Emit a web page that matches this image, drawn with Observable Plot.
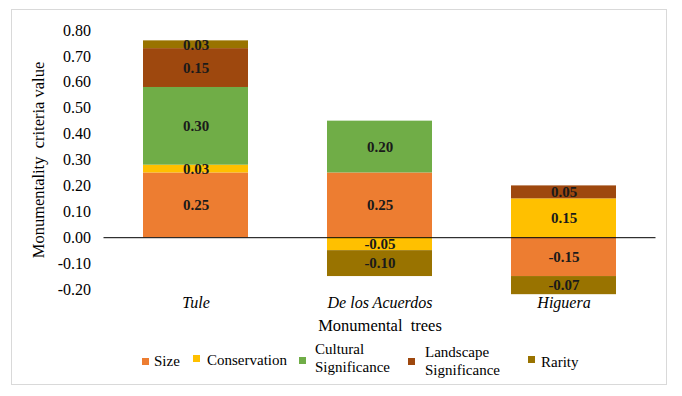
<!DOCTYPE html>
<html>
<head>
<meta charset="utf-8">
<script src="https://cdn.jsdelivr.net/npm/d3@7"></script>
<script src="https://cdn.jsdelivr.net/npm/@observablehq/plot@0.6"></script>
<style>
  html, body { margin: 0; padding: 0; background: #fff; }
  body { width: 682px; height: 396px; position: relative; overflow: hidden;
         font-family: "Liberation Serif", "LiberationSerif", Tinos, "Nimbus Roman", "DejaVu Serif", serif; }
  #frame { position: absolute; left: 11px; top: 9px; width: 656px; height: 376px;
           border: 1px solid #d9d9d9; box-sizing: border-box; }
  #chart { position: absolute; left: 0; top: 0; }
  #chart svg { overflow: visible; font-family: "Liberation Serif", "LiberationSerif", Tinos, "Nimbus Roman", "DejaVu Serif", serif !important; }
  #chart svg text { font-family: "Liberation Serif", "LiberationSerif", Tinos, "Nimbus Roman", "DejaVu Serif", serif; }
  .item { position: absolute; display: flex; align-items: center; transform: translateY(-50%);
          font-size: 15px; color: #000; line-height: 18px; }
  .sw { width: 7px; height: 7px; display: inline-block; flex: none; }
  .item:nth-child(1) { left: 142px; top: 361px; }
  .item:nth-child(1) .sw { margin-right: 5px; }
  .item:nth-child(2) { left: 193px; top: 360px; }
  .item:nth-child(2) .sw { margin-right: 7px; margin-top: -3px; }
  .item:nth-child(3) { left: 299px; top: 358px; }
  .item:nth-child(3) .sw { margin-right: 9px; margin-top: 4px; }
  .item:nth-child(4) { left: 408px; top: 361px; }
  .item:nth-child(4) .sw { margin-right: 10px; }
  .item:nth-child(5) { left: 528px; top: 362px; }
  .item:nth-child(5) .sw { margin-right: 6px; margin-top: -6px; }
</style>
</head>
<body>
<div id="frame"></div>
<div id="chart"></div>
<div id="legend"></div>
<script>
const trees = ["Tule", "De los Acuerdos", "Higuera"];
const criteria = ["Size", "Conservation", "Cultural Significance", "Landscape Significance", "Rarity"];
const legendLabels = ["Size", "Conservation", "Cultural<br>Significance", "Landscape<br>Significance", "Rarity"];
const colors = ["#ED7D31", "#FFC000", "#70AD47", "#9E480E", "#997300"];
const tuleValues = [0.25, 0.03, 0.30, 0.15, 0.03];
const acuerdosValues = [0.25, -0.05, 0.20, 0, -0.10];
const higueraValues = [-0.15, 0.15, 0, 0.05, -0.07];
const yTicks = [-0.2, -0.1, 0, 0.1, 0.2, 0.3, 0.4, 0.5, 0.6, 0.7, 0.8];

const seriesByTree = [tuleValues, acuerdosValues, higueraValues];
const rows = [];
trees.forEach((t, i) => {
  criteria.forEach((c, j) => {
    const v = seriesByTree[i][j];
    if (v !== 0) rows.push({tree: t, criterion: c, value: v});
  });
});

const fmt = d => (Math.abs(d) < 1e-9 ? 0 : d).toFixed(2);
const serif = '"Liberation Serif", "LiberationSerif", Tinos, "Nimbus Roman", "DejaVu Serif", serif';

const chart = Plot.plot({
  width: 682,
  height: 396,
  marginLeft: 103.5,
  marginRight: 26.5,
  marginTop: 30,
  marginBottom: 107,
  style: {fontFamily: serif, background: "transparent", color: "#000"},
  x: {domain: trees, paddingInner: 0.43, paddingOuter: 0.215, label: null},
  y: {domain: [-0.2, 0.8], label: null},
  color: {domain: criteria, range: colors},
  marks: [
    Plot.barY(rows, {x: "tree", y: "value", fill: "criterion", z: "criterion"}),
    Plot.ruleY([0], {stroke: "#000", strokeWidth: 1}),
    Plot.text(rows, Plot.stackY({x: "tree", y: "value", z: "criterion",
      text: d => fmt(d.value), fontWeight: "bold", fontSize: 15, fill: "#1a1a1a"})),
    Plot.axisY({ticks: yTicks, tickFormat: fmt, tickSize: 0, tickPadding: 13, fontSize: 16,
      label: "Monumentality  criteria value", labelAnchor: "center", labelOffset: 72, labelArrow: "none"}),
    Plot.axisX({tickSize: 0, tickPadding: 7, fontSize: 16, fontStyle: "italic",
      label: "Monumental  trees", labelAnchor: "center", labelOffset: 41, labelArrow: "none"})
  ]
});
chart.querySelectorAll('[aria-label="y-axis label"] text, [aria-label="x-axis label"] text').forEach(t => {
  t.setAttribute("font-size", "16.5");
  t.setAttribute("font-style", "normal");
  t.style.fontStyle = "normal";
});
chart.querySelectorAll('[aria-label="x-axis label"]').forEach(g => { g.setAttribute("font-style", "normal"); });
document.getElementById("chart").appendChild(chart);

const legend = document.getElementById("legend");
criteria.forEach((c, i) => {
  const item = document.createElement("div");
  item.className = "item";
  item.innerHTML = `<span class="sw" style="background:${colors[i]}"></span><span>${legendLabels[i]}</span>`;
  legend.appendChild(item);
});
</script>
</body>
</html>
